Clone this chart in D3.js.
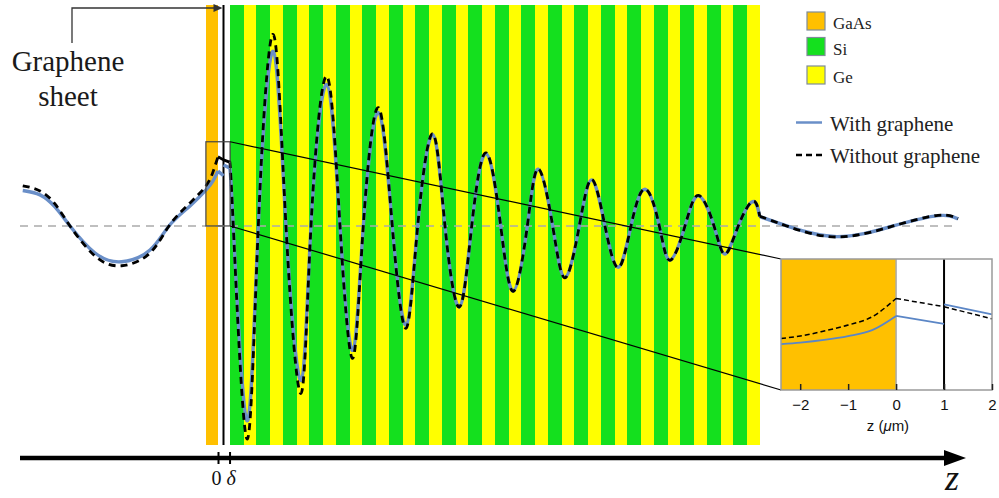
<!DOCTYPE html>
<html>
<head>
<meta charset="utf-8">
<script src="https://cdn.jsdelivr.net/npm/d3@7"></script>
<style>
  body { margin: 0; background: #fff; }
  svg { display: block; }
</style>
</head>
<body>
<svg id="chart" width="999" height="498"></svg>
<script>
// ---- Structure: GaAs substrate, graphene sheet, then a (Si/Ge)x20 stack (µm) ----
const materials = ["GaAs", "Si", "Ge"];
const substrateSpan = [-2.2, 0];
const grapheneZ = 1;
const stackStart = 2.1;          // δ
const stackPeriods = 20;
const periodMaterials = ["Si", "Ge"];
const periodThickness = [2.57, 2.25];

// ---- Field profile along z (arbitrary units) ----
const withZ = [
  -35.5, -32.36, -29.64, -26.91, -22.36, -17.51, -12.36, -8.91, -5.09, -2.18, -0.91, 0,
  1, 1, 2.1,
  2.78, 5.22, 7.33, 10.05, 12.36, 15.09, 16.91, 19.76, 22.18, 24.49, 26.42, 29.15,
  31.69, 34.18, 36.31, 39.04, 41.27, 43.87, 46.13, 48.73, 51.40, 53.69, 56.24, 58.24,
  60.85, 63.09, 65.69, 67.95, 70.36, 72.78, 75.09, 77.64, 80.24, 82.18, 84.91, 87.33,
  90.18, 92.18, 94.60, 97.22, 98.5,
  103.4, 112.49, 122.78, 130.91, 134.55
];
const withField = [
  0.186, 0.163, 0.100, 0, -0.142, -0.188, -0.126, 0, 0.105, 0.189, 0.237, 0.289,
  0.263, 0.320, 0.305,
  0, -1.021, 0, 0.917, 0, -0.811, 0, 0.742, 0, -0.653, 0, 0.595,
  0, -0.521, 0, 0.479, 0, -0.425, 0, 0.379, 0, -0.341, 0, 0.298,
  0, -0.270, 0, 0.242, 0, -0.217, 0, 0.193, 0, -0.179, 0, 0.158,
  0, -0.147, 0, 0.128, 0.049,
  0, -0.056, 0, 0.054, 0.037
];
const withoutZ = [
  -35.5, -32.36, -29.64, -26.91, -22.36, -17.51, -12.36, -8.91, -5.09, -2.18, -0.91, 0,
  1, 2.1,
  2.78, 5.22, 7.33, 10.05, 12.36, 15.09, 16.91, 19.76, 22.18, 24.49, 26.42, 29.15,
  31.69, 34.18, 36.31, 39.04, 41.27, 43.87, 46.13, 48.73, 51.40, 53.69, 56.24, 58.24,
  60.85, 63.09, 65.69, 67.95, 70.36, 72.78, 75.09, 77.64, 80.24, 82.18, 84.91, 87.33,
  90.18, 92.18, 94.60, 97.22, 98.5,
  103.4, 112.49, 122.78, 130.91, 134.55
];
const withoutField = [
  0.211, 0.184, 0.116, 0, -0.158, -0.209, -0.142, 0, 0.121, 0.211, 0.284, 0.363,
  0.347, 0.335,
  0, -1.116, 0, 1.005, 0, -0.879, 0, 0.786, 0, -0.695, 0, 0.621,
  0, -0.537, 0, 0.484, 0, -0.426, 0, 0.384, 0, -0.343, 0, 0.300,
  0, -0.272, 0, 0.244, 0, -0.219, 0, 0.195, 0, -0.181, 0, 0.160,
  0, -0.149, 0, 0.130, 0.051,
  0, -0.058, 0, 0.056, 0.038
];

// ---- Close-up around the graphene sheet ----
const insetWithZ = [-2.4, -2, -1.5, -1, -0.5, 0, 1, 1, 2];
const insetWithField = [0.155, 0.160, 0.169, 0.182, 0.202, 0.250, 0.223, 0.289, 0.255];
const insetWithoutZ = [-2.4, -2, -1.5, -1, -0.5, 0, 1, 2];
const insetWithoutField = [0.174, 0.182, 0.199, 0.219, 0.247, 0.309, 0.281, 0.240];
const insetTicks = [-2, -1, 0, 1, 2];
const zoomWindowZ = [-2.2, 2.2];
const zoomWindowField = [0, 0.442];

const seriesNames = ["With graphene", "Without graphene"];
const axisTickLabels = ["0", "δ"];

// ---- Styles ----
const matColor = { GaAs: "#ffc000", Si: "#14e01e", Ge: "#ffff00" };
const blue = "#6a8fc8";
const serif = "'Liberation Serif', 'Times New Roman', serif";
const sans = "'Liberation Sans', Arial, sans-serif";

const svg = d3.select("#chart");
svg.append("rect").attr("width", 999).attr("height", 498).attr("fill", "#fff");

const x = d3.scaleLinear().domain([-36, 136]).range([20, 966]);
const y = d3.scaleLinear().domain([-1.15, 1.16]).range([445, 5]);
const yTop = y(1.16), yBot = y(-1.15);

// layer stack
const layers = [{ m: "GaAs", z0: substrateSpan[0], z1: substrateSpan[1] }];
let zc = stackStart;
for (let p = 0; p < stackPeriods; p++) {
  periodMaterials.forEach((m, i) => {
    layers.push({ m, z0: zc, z1: zc + periodThickness[i] });
    zc += periodThickness[i];
  });
}
const stackEnd = zc;

svg.append("g").selectAll("rect").data(layers).join("rect")
  .attr("x", d => x(d.z0))
  .attr("width", d => x(d.z1) - x(d.z0))
  .attr("y", yTop).attr("height", yBot - yTop)
  .attr("fill", d => matColor[d.m])
  .attr("shape-rendering", "crispEdges");

// graphene sheet
svg.append("line")
  .attr("x1", x(grapheneZ)).attr("x2", x(grapheneZ))
  .attr("y1", yTop).attr("y2", yBot)
  .attr("stroke", "#000").attr("stroke-width", 2);

// zero reference
svg.append("line")
  .attr("x1", x(-36)).attr("x2", x(134.5))
  .attr("y1", y(0)).attr("y2", y(0))
  .attr("stroke", "#aaa").attr("stroke-width", 1.5)
  .attr("stroke-dasharray", "8,6");

// split a profile at interfaces so kinks and jumps stay sharp
function splitAt(zs, vs, breaks) {
  const segs = [[]];
  zs.forEach((z, i) => {
    const cur = segs[segs.length - 1];
    cur.push([z, vs[i]]);
    if (breaks.includes(z) && i < zs.length - 1 && cur.length > 1) {
      segs.push(zs[i + 1] === z ? [] : [[z, vs[i]]]);
    }
  });
  return segs.filter(s => s.length > 1);
}

const mainBreaks = [0, grapheneZ, stackStart, 98.5];
const mainLine = d3.line().x(d => x(d[0])).y(d => y(d[1])).curve(d3.curveNatural);

svg.append("path")
  .attr("d", splitAt(withZ, withField, mainBreaks).map(mainLine).join(""))
  .attr("fill", "none").attr("stroke", blue).attr("stroke-width", 3.4)
  .attr("stroke-linejoin", "round");
svg.append("path")
  .attr("d", splitAt(withoutZ, withoutField, mainBreaks).map(mainLine).join(""))
  .attr("fill", "none").attr("stroke", "#000").attr("stroke-width", 2.8)
  .attr("stroke-dasharray", "7,5");

// zoom window and connectors
const wx0 = x(zoomWindowZ[0]), wx1 = x(zoomWindowZ[1]);
const wy0 = y(zoomWindowField[1]), wy1 = y(zoomWindowField[0]);
svg.append("rect")
  .attr("x", wx0).attr("y", wy0).attr("width", wx1 - wx0).attr("height", wy1 - wy0)
  .attr("fill", "none").attr("stroke", "#444").attr("stroke-width", 1.2);

// ---- Inset ----
const xi = d3.scaleLinear().domain([-2.4, 2]).range([781, 992]);
const yi = d3.scaleLinear().domain(zoomWindowField).range([390, 259]);

svg.append("line").attr("x1", wx1).attr("y1", wy0).attr("x2", xi(-2.4)).attr("y2", yi(zoomWindowField[1]))
  .attr("stroke", "#000").attr("stroke-width", 1.2);
svg.append("line").attr("x1", wx1).attr("y1", wy1).attr("x2", xi(-2.4)).attr("y2", yi(0))
  .attr("stroke", "#000").attr("stroke-width", 1.2);

const inset = svg.append("g");
inset.append("rect")
  .attr("x", xi(-2.4)).attr("y", yi(0.442)).attr("width", xi(2) - xi(-2.4)).attr("height", yi(0) - yi(0.442))
  .attr("fill", "#fff");
inset.append("rect")
  .attr("x", xi(-2.4)).attr("y", yi(0.442)).attr("width", xi(0) - xi(-2.4)).attr("height", yi(0) - yi(0.442))
  .attr("fill", matColor.GaAs);
inset.append("line").attr("x1", xi(0)).attr("x2", xi(0)).attr("y1", yi(0.442)).attr("y2", yi(0))
  .attr("stroke", "#aaa").attr("stroke-width", 1.5);
inset.append("line").attr("x1", xi(grapheneZ)).attr("x2", xi(grapheneZ)).attr("y1", yi(0.442)).attr("y2", yi(0))
  .attr("stroke", "#000").attr("stroke-width", 2);

const insetLine = d3.line().x(d => xi(d[0])).y(d => yi(d[1])).curve(d3.curveMonotoneX);
const insetBreaks = [0, grapheneZ];
inset.append("path")
  .attr("d", splitAt(insetWithZ, insetWithField, insetBreaks).map(insetLine).join(""))
  .attr("fill", "none").attr("stroke", "#5b86c6").attr("stroke-width", 1.8);
inset.append("path")
  .attr("d", splitAt(insetWithoutZ, insetWithoutField, insetBreaks).map(insetLine).join(""))
  .attr("fill", "none").attr("stroke", "#000").attr("stroke-width", 1.5)
  .attr("stroke-dasharray", "5,3");

inset.append("rect")
  .attr("x", xi(-2.4)).attr("y", yi(0.442)).attr("width", xi(2) - xi(-2.4)).attr("height", yi(0) - yi(0.442))
  .attr("fill", "none").attr("stroke", "#9a9a9a").attr("stroke-width", 1.5);

const insetAxis = inset.append("g")
  .attr("transform", `translate(0,${yi(0)})`)
  .call(d3.axisBottom(xi).tickValues(insetTicks).tickFormat(d3.format("d")).tickSize(-6).tickPadding(9));
insetAxis.select(".domain").remove();
insetAxis.selectAll(".tick line").attr("stroke", "#222").attr("stroke-width", 1.5);
insetAxis.selectAll(".tick text")
  .attr("font-family", sans).attr("font-size", 15).attr("fill", "#111");

const zl = inset.append("text")
  .attr("x", xi(-0.17)).attr("y", 431)
  .attr("text-anchor", "middle")
  .attr("font-family", sans).attr("font-size", 15).attr("fill", "#111");
zl.append("tspan").text("z (");
zl.append("tspan").attr("font-style", "italic").text("μ");
zl.append("tspan").text("m)");

// ---- Legend ----
const legend = svg.append("g");
const legY = [12, 37.5, 66];
materials.forEach((m, i) => {
  legend.append("rect")
    .attr("x", 807).attr("y", legY[i]).attr("width", 18).attr("height", 18)
    .attr("fill", matColor[m]).attr("stroke", "#7f8c99").attr("stroke-width", 1.2);
  legend.append("text")
    .attr("x", 833).attr("y", legY[i] + 17)
    .attr("font-family", serif).attr("font-size", 17).attr("fill", "#222")
    .text(m);
});
const lineLegY = [122.5, 155];
legend.append("line").attr("x1", 796).attr("x2", 822).attr("y1", lineLegY[0]).attr("y2", lineLegY[0])
  .attr("stroke", blue).attr("stroke-width", 2.5);
legend.append("line").attr("x1", 796).attr("x2", 822).attr("y1", lineLegY[1]).attr("y2", lineLegY[1])
  .attr("stroke", "#000").attr("stroke-width", 2.5).attr("stroke-dasharray", "6,4");
seriesNames.forEach((s, i) => {
  legend.append("text")
    .attr("x", 830).attr("y", lineLegY[i] + 8)
    .attr("font-family", serif).attr("font-size", 21).attr("fill", "#222")
    .text(s);
});

// ---- Graphene label with pointer ----
svg.append("path")
  .attr("d", `M72,43 V8 H${x(grapheneZ) - 3}`)
  .attr("fill", "none").attr("stroke", "#333").attr("stroke-width", 1.3);
svg.append("path")
  .attr("d", `M${x(grapheneZ) - 1},8 l-9,-4 v8 z`)
  .attr("fill", "#333");
svg.append("text").attr("x", 68).attr("y", 71).attr("text-anchor", "middle")
  .attr("font-family", serif).attr("font-size", 29).attr("fill", "#1a1a1a").text("Graphene");
svg.append("text").attr("x", 68).attr("y", 106).attr("text-anchor", "middle")
  .attr("font-family", serif).attr("font-size", 29).attr("fill", "#1a1a1a").text("sheet");

// ---- z axis ----
const axisY = 458;
svg.append("line")
  .attr("x1", x.range()[0]).attr("x2", x.range()[1] - 16)
  .attr("y1", axisY).attr("y2", axisY)
  .attr("stroke", "#000").attr("stroke-width", 4.5);
svg.append("path")
  .attr("d", `M${x.range()[1]},${axisY} l-22,-8 v16 z`)
  .attr("fill", "#000");

const zAxis = svg.append("g")
  .attr("transform", `translate(0,${axisY})`)
  .call(d3.axisBottom(x).tickValues([0, stackStart])
    .tickFormat((d, i) => axisTickLabels[i]).tickSize(6).tickPadding(7));
zAxis.select(".domain").remove();
zAxis.selectAll(".tick line").attr("y1", -6).attr("y2", 6).attr("stroke", "#000").attr("stroke-width", 2);
zAxis.selectAll(".tick text")
  .attr("font-family", serif).attr("font-size", 20).attr("fill", "#111")
  .attr("font-style", (d, i) => i === 1 ? "italic" : "normal")
  .attr("dx", (d, i) => i === 0 ? -2 : 1);

svg.append("text").attr("x", 952).attr("y", 490).attr("text-anchor", "middle")
  .attr("font-family", serif).attr("font-style", "italic").attr("font-size", 36).attr("fill", "#111")
  .text("z");
</script>
</body>
</html>
